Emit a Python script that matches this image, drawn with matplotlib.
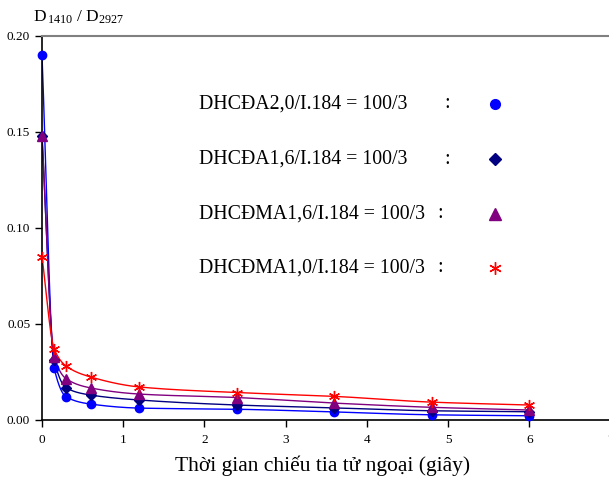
import numpy as np
import matplotlib
matplotlib.use("Agg")
import matplotlib.pyplot as plt
from matplotlib.ticker import FormatStrFormatter

plt.rcParams["font.family"] = ["Liberation Serif", "DejaVu Serif"]
plt.rcParams["mathtext.fontset"] = "custom"
plt.rcParams["mathtext.rm"] = "Liberation Serif"
plt.rcParams["mathtext.it"] = "Liberation Serif:italic"

# irradiation time (s)
x_time = [0, 0.15, 0.3, 0.6, 1.2, 2.4, 3.6, 4.8, 6.0]

# D1410 / D2927 ratios
y_da20 = [0.190, 0.027, 0.012, 0.0083, 0.0062, 0.0056, 0.0042, 0.0027, 0.0022]
y_da16 = [0.148, 0.031, 0.0167, 0.013, 0.0104, 0.0078, 0.0063, 0.0048, 0.0043]
y_dma16 = [0.148, 0.033, 0.0214, 0.0167, 0.0135, 0.0117, 0.0088, 0.0066, 0.0052]
y_dma10 = [0.085, 0.037, 0.028, 0.0224, 0.0172, 0.0143, 0.0123, 0.0093, 0.0078]

labels = ["DHCĐA2,0/I.184 = 100/3",
          "DHCĐA1,6/I.184 = 100/3",
          "DHCĐMA1,6/I.184 = 100/3",
          "DHCĐMA1,0/I.184 = 100/3"]
colons = [444, 444, 437, 437]


def smooth(x, y, n=40):
    # monotone cubic (Fritsch-Carlson) just for drawing a smooth line
    x = np.asarray(x, float)
    y = np.asarray(y, float)
    h = np.diff(x)
    d = np.diff(y) / h
    m = np.zeros_like(y)
    m[0], m[-1] = d[0], d[-1]
    for i in range(1, len(y) - 1):
        if d[i - 1] * d[i] > 0:
            w1 = 2 * h[i] + h[i - 1]
            w2 = h[i] + 2 * h[i - 1]
            m[i] = (w1 + w2) / (w1 / d[i - 1] + w2 / d[i])
    xs, ys = [], []
    for i in range(len(h)):
        t = np.linspace(0, 1, n)
        h00 = 2 * t**3 - 3 * t**2 + 1
        h10 = t**3 - 2 * t**2 + t
        h01 = -2 * t**3 + 3 * t**2
        h11 = t**3 - t**2
        xs.append(x[i] + t * h[i])
        ys.append(h00 * y[i] + h10 * h[i] * m[i] + h01 * y[i + 1] + h11 * h[i] * m[i + 1])
    return np.concatenate(xs), np.concatenate(ys)


fig = plt.figure(figsize=(6.09, 4.79), dpi=100)
ax = fig.add_axes([42 / 609, 59 / 479, 568.6 / 609, 384 / 479])

series = [
    (y_da20, "#0000FF", "o", 6),
    (y_da16, "#000080", "D", 5),
    (y_dma16, "#800080", "^", 7),
    (y_dma10, "#FF0000", (6, 2, 0), 8),
]
for ys, col, mk, ms in series:
    sx, sy = smooth(x_time, ys)
    ax.plot(sx, sy, color=col, lw=1.0, zorder=2)
    ax.plot(x_time, ys, ls="none", marker=mk, color=col, ms=ms,
            markeredgewidth=1.0, zorder=3, clip_on=False)

ax.set_xlim(0, 7)
ax.set_ylim(0, 0.20)
ax.set_xticks(range(0, 8))
ax.set_yticks([0, 0.05, 0.10, 0.15, 0.20])
ax.yaxis.set_major_formatter(FormatStrFormatter("%.2f"))
ax.tick_params(axis="both", direction="out", length=5, width=1, labelsize=9.5)
ax.tick_params(axis="x", pad=5)
ax.spines["right"].set_visible(False)
ax.spines["top"].set_color("#808080")
ax.spines["top"].set_linewidth(1.5)
ax.spines["left"].set_linewidth(1.2)
ax.spines["bottom"].set_linewidth(1.2)

# legend drawn as text + markers
leg_y = [104, 159, 214, 268]
for (ys, col, mk, ms), lab, cx, py in zip(series, labels, colons, leg_y):
    fy = 1 - py / 479
    fig.text(199 / 609, fy, lab, fontsize=14.3, va="center", ha="left")
    fig.text(cx / 609, fy, ":", fontsize=14.3, va="center", ha="left")
    fig.lines.append(plt.Line2D([495 / 609], [fy], transform=fig.transFigure,
                                marker=mk, color=col, ms=ms + 1, ls="none"))

fig.text(33 / 609, 1 - 17 / 479, r"D$_{\,1410}$ / D$_{2927}$", fontsize=12.5,
         va="center", ha="left")
fig.text(323 / 609, 1 - 466 / 479, "Thời gian chiếu tia tử ngoại (giây)",
         fontsize=15.5, va="center", ha="center")

fig.savefig("out.png", dpi=100)
